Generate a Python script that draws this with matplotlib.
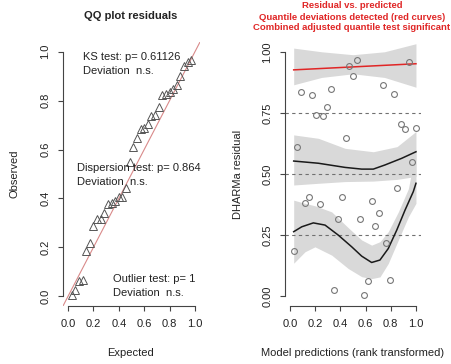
import numpy as np
import matplotlib
matplotlib.use("Agg")
import matplotlib.pyplot as plt

plt.rcParams['font.family'] = ['Liberation Sans', 'DejaVu Sans']

# ---- data -------------------------------------------------------------
# rank-transformed model predictions and the scaled (DHARMa) residuals
pred_rank = [0.029, 0.059, 0.088, 0.118, 0.147, 0.176, 0.206, 0.235, 0.265,
             0.294, 0.324, 0.353, 0.382, 0.412, 0.441, 0.471, 0.500, 0.529,
             0.559, 0.588, 0.618, 0.647, 0.676, 0.706, 0.735, 0.765, 0.794,
             0.824, 0.853, 0.882, 0.912, 0.941, 0.971, 1.000]
residuals = [0.186, 0.612, 0.837, 0.380, 0.404, 0.825, 0.742, 0.376, 0.738,
             0.776, 0.847, 0.025, 0.314, 0.404, 0.649, 0.943, 0.899, 0.967,
             0.314, 0.004, 0.061, 0.390, 0.287, 0.339, 0.865, 0.216, 0.066,
             0.828, 0.441, 0.705, 0.683, 0.960, 0.548, 0.687]

# quantile regression fits (0.75 / 0.5 / 0.25) with confidence bands
q_hi_x = [0.029, 1.0]
q_hi_y = [0.926, 0.951]
q_hi_bx = [0.029, 0.25, 0.50, 0.75, 1.0]
q_hi_lo = [0.865, 0.895, 0.910, 0.895, 0.855]
q_hi_up = [1.015, 1.000, 0.988, 1.000, 1.033]

q_mid_x = [0.029, 0.225, 0.437, 0.569, 0.661, 0.754, 0.886, 1.0]
q_mid_y = [0.553, 0.544, 0.527, 0.520, 0.520, 0.537, 0.564, 0.591]
q_mid_bx = [0.029, 0.225, 0.437, 0.661, 0.850, 1.0]
q_mid_lo = [0.455, 0.462, 0.469, 0.471, 0.478, 0.490]
q_mid_up = [0.660, 0.646, 0.605, 0.591, 0.612, 0.674]

q_lo_x = [0.029, 0.093, 0.185, 0.278, 0.383, 0.490, 0.569, 0.648, 0.714,
          0.780, 0.847, 0.913, 0.979, 1.0]
q_lo_y = [0.264, 0.284, 0.300, 0.291, 0.250, 0.202, 0.164, 0.138, 0.148,
          0.195, 0.270, 0.352, 0.428, 0.462]
q_lo_bx = [0.029, 0.119, 0.198, 0.331, 0.463, 0.569, 0.648, 0.714, 0.780,
           0.860, 0.940, 1.0]
q_lo_lo = [0.135, 0.182, 0.202, 0.168, 0.113, 0.080, 0.072, 0.079, 0.134,
           0.230, 0.325, 0.380]
q_lo_up = [0.393, 0.380, 0.370, 0.345, 0.280, 0.230, 0.209, 0.223, 0.264,
           0.345, 0.440, 0.600]

ks_text = ["KS test: p= 0.61126", "Deviation  n.s."]
disp_text = ["Dispersion test: p= 0.864", "Deviation  n.s."]
outl_text = ["Outlier test: p= 1", "Deviation  n.s."]
ticks01 = [0.0, 0.2, 0.4, 0.6, 0.8, 1.0]
resid_ticks = [0.0, 0.25, 0.5, 0.75, 1.0]
quantile_levels = [0.25, 0.5, 0.75]

# ---- figure -----------------------------------------------------------
W, H = 451, 364
fig = plt.figure(figsize=(W / 100, H / 100), dpi=100)
FS = 8
RED = '#e02626'


def px_axes(x0, y0, x1, y1):
    """Axes spanning pixel box (left, top, right, bottom)."""
    return fig.add_axes([x0 / W, 1 - y1 / H, (x1 - x0) / W, (y1 - y0) / H])


def r_style(ax, yt, xt, yfmt):
    ax.set_xlim(-0.04, 1.04)
    ax.set_ylim(-0.04, 1.04)
    for s in ('top', 'right'):
        ax.spines[s].set_visible(False)
    ax.spines['left'].set_bounds(yt[0], yt[-1])
    ax.spines['bottom'].set_bounds(xt[0], xt[-1])
    for s in ('left', 'bottom'):
        ax.spines[s].set_color('#444444')
        ax.spines[s].set_linewidth(0.8)
    ax.set_xticks(xt)
    ax.set_xticklabels([f"{v:.1f}" for v in xt])
    ax.set_yticks(yt)
    ax.set_yticklabels([yfmt.format(v) for v in yt], rotation=90, va='center')
    ax.tick_params(direction='out', length=3.6, width=0.8, color='#444444',
                   labelsize=FS, labelcolor='#222222', pad=5.5)


# ---- left: QQ plot ----------------------------------------------------
ax1 = px_axes(63, 42, 200, 306)
n = len(residuals)
observed = np.sort(residuals)
expected = np.arange(1, n + 1) / (n + 1)
ax1.axline((0, 0), (1, 1), color='#d98a8a', lw=0.8, zorder=1)
ax1.plot(expected, observed, linestyle='none', marker='^', ms=5.5,
         mfc='none', mec='#555555', mew=0.7, zorder=2)
r_style(ax1, ticks01, ticks01, "{:.1f}")

for (tx, ty), lines in [((0.118, 0.978), ks_text),
                        ((0.071, 0.525), disp_text),
                        ((0.354, 0.070), outl_text)]:
    for k, s in enumerate(lines):
        ax1.text(tx, ty - k * 0.057, s, fontsize=FS, ha='left', va='center',
                 color='#222222')

fig.text(131 / W, 1 - 16 / H, "QQ plot residuals", ha='center', va='center',
         fontsize=FS, fontweight='bold', color='#222222')
fig.text(131 / W, 1 - 353 / H, "Expected", ha='center', va='center',
         fontsize=FS, color='#222222')
fig.text(15 / W, 1 - 174 / H, "Observed", ha='center', va='center',
         fontsize=FS, rotation=90, color='#222222')

# ---- right: residual vs predicted --------------------------------------
ax2 = px_axes(285, 42, 421, 306)
band = '#d9d9d9'
ax2.fill_between(q_hi_bx, q_hi_lo, q_hi_up, color=band, lw=0, zorder=1)
ax2.fill_between(q_mid_bx, q_mid_lo, q_mid_up, color=band, lw=0, zorder=1)
ax2.fill_between(q_lo_bx, q_lo_lo, q_lo_up, color=band, lw=0, zorder=1)
for q in quantile_levels:
    ax2.axhline(q, color='#707070', lw=0.8, ls=(0, (3, 3)), zorder=2)
ax2.plot(q_hi_x, q_hi_y, color=RED, lw=1.1, zorder=3)
ax2.plot(q_mid_x, q_mid_y, color='#1a1a1a', lw=1.1, zorder=3)
ax2.plot(q_lo_x, q_lo_y, color='#1a1a1a', lw=1.1, zorder=3)
ax2.plot(pred_rank, residuals, linestyle='none', marker='o', ms=4.2,
         mfc='none', mec='#777777', mew=0.8, zorder=4)
r_style(ax2, resid_ticks, ticks01, "{:.2f}")

titles = ["Residual vs. predicted",
          "Quantile deviations detected (red curves)",
          "Combined adjusted quantile test significant"]
for k, t in enumerate(titles):
    fig.text(352 / W, 1 - (6 + 11 * k) / H, t, ha='center', va='center',
             fontsize=6.8, fontweight='bold', color=RED)
fig.text(353 / W, 1 - 353 / H, "Model predictions (rank transformed)",
         ha='center', va='center', fontsize=FS, color='#222222')
fig.text(238 / W, 1 - 174 / H, "DHARMa residual", ha='center', va='center',
         fontsize=FS, rotation=90, color='#222222')

fig.savefig("out.png", dpi=100)
